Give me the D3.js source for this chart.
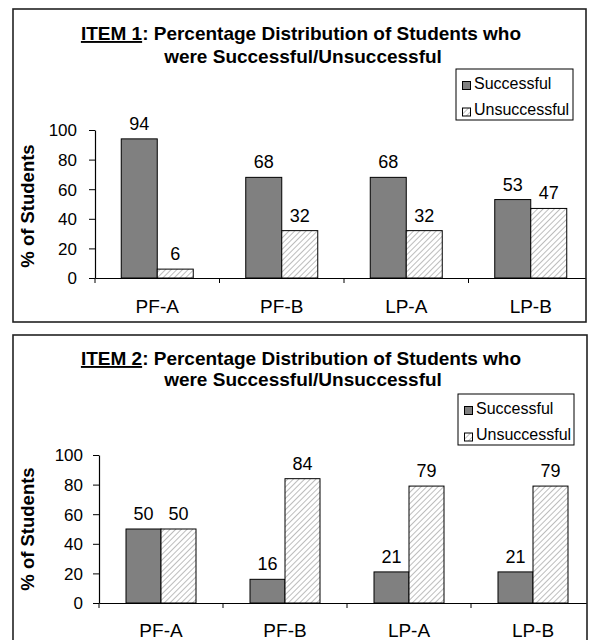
<!DOCTYPE html>
<html>
<head>
<meta charset="utf-8">
<script src="https://cdn.jsdelivr.net/npm/d3@7"></script>
<style>
  html, body { margin: 0; padding: 0; background: #fff; }
  svg { display: block; }
  text { font-family: "Liberation Sans", Arial, sans-serif; fill: #000; }
</style>
</head>
<body>
<svg id="chart" width="592" height="640"></svg>
<script>
// ---- data ----
const categories = ["PF-A", "PF-B", "LP-A", "LP-B"];
const seriesNames = ["Successful", "Unsuccessful"];
const item1Successful = [94, 68, 68, 53];
const item1Unsuccessful = [6, 32, 32, 47];
const item2Successful = [50, 16, 21, 21];
const item2Unsuccessful = [50, 84, 79, 79];
const yTicks = [0, 20, 40, 60, 80, 100];
const titleItem1 = "ITEM 1";
const titleItem2 = "ITEM 2";
const titleRest1 = ": Percentage Distribution of Students who";
const titleLine2 = "were Successful/Unsuccessful";
const yAxisTitle = "% of Students";

const svg = d3.select("#chart");
const defs = svg.append("defs");
const pat = defs.append("pattern")
  .attr("id", "hatch").attr("patternUnits", "userSpaceOnUse")
  .attr("width", 4).attr("height", 4)
  .attr("patternTransform", "rotate(45)");
pat.append("rect").attr("width", 4).attr("height", 4).attr("fill", "#fff");
pat.append("line").attr("x1", 0).attr("y1", 0).attr("x2", 0).attr("y2", 4)
  .attr("stroke", "#9a9a9a").attr("stroke-width", 1.3);

const fills = { Successful: "#808080", Unsuccessful: "url(#hatch)" };

function drawChart(cfg) {
  const g = svg.append("g");
  const clipId = "clip" + cfg.id;
  defs.append("clipPath").attr("id", clipId)
    .append("rect").attr("x", cfg.box.x).attr("y", cfg.box.y)
    .attr("width", cfg.box.w).attr("height", cfg.box.h);

  const inner = g.append("g").attr("clip-path", `url(#${clipId})`);

  const x = d3.scaleBand().domain(categories)
    .range([cfg.plotLeft, cfg.plotLeft + cfg.band * categories.length])
    .paddingInner(0).paddingOuter(0);
  const bw = x.bandwidth();
  const xs = d3.scaleBand().domain(seriesNames)
    .range([bw / 2 - cfg.barW, bw / 2 + cfg.barW]);
  const y = d3.scaleLinear().domain([0, 100]).range([cfg.zeroY, cfg.topY]);

  const rows = categories.map((c, i) => ({
    cat: c,
    vals: [
      { s: "Successful", v: cfg.succ[i] },
      { s: "Unsuccessful", v: cfg.unsucc[i] }
    ]
  }));

  // bars
  const grp = inner.selectAll("g.cat").data(rows).join("g")
    .attr("class", "cat")
    .attr("transform", d => `translate(${x(d.cat)},0)`);
  grp.selectAll("rect").data(d => d.vals).join("rect")
    .attr("x", d => xs(d.s))
    .attr("y", d => y(d.v))
    .attr("width", xs.bandwidth())
    .attr("height", d => y(0) - y(d.v))
    .attr("fill", d => fills[d.s])
    .attr("stroke", "#000").attr("stroke-width", 1);
  grp.selectAll("text").data(d => d.vals).join("text")
    .attr("x", d => xs(d.s) + xs.bandwidth() / 2)
    .attr("y", d => y(d.v) - 9)
    .attr("text-anchor", "middle")
    .style("font-size", "18px")
    .text(d => d.v);

  // x axis
  const xAxis = d3.axisBottom(x).tickSize(0).tickFormat("").tickSizeOuter(0);
  const xg = inner.append("g").attr("transform", `translate(0,${cfg.zeroY})`).call(xAxis);
  xg.select(".domain").attr("stroke", "#000").attr("stroke-width", 1.2);
  // category boundary tick marks
  const bounds = d3.range(categories.length).map(i => x(categories[i]));
  inner.selectAll("line.xt").data(bounds).join("line").attr("class", "xt")
    .attr("x1", d => d).attr("x2", d => d)
    .attr("y1", cfg.zeroY).attr("y2", cfg.zeroY + 5)
    .attr("stroke", "#000").attr("stroke-width", 1);
  // category labels
  inner.selectAll("text.cl").data(categories).join("text").attr("class", "cl")
    .attr("x", d => x(d) + bw / 2)
    .attr("y", cfg.catY)
    .attr("text-anchor", "middle")
    .style("font-size", "19px")
    .text(d => d);

  // y axis
  const yAxis = d3.axisLeft(y).tickValues(yTicks).tickSize(6).tickSizeOuter(0).tickPadding(4);
  const yg = inner.append("g").attr("transform", `translate(${cfg.plotLeft},0)`).call(yAxis);
  yg.select(".domain").attr("stroke", "#000").attr("stroke-width", 1.2);
  yg.selectAll(".tick line").attr("stroke", "#000");
  yg.selectAll(".tick text")
    .style("font-family", '"Liberation Sans", Arial, sans-serif')
    .style("font-size", "17px").attr("fill", "#000").attr("dy", "0.35em");
  yg.selectAll(".tick text").attr("x", -cfg.tickGap);

  // y title
  inner.append("text")
    .attr("transform", `translate(${cfg.yTitleX},${cfg.yTitleY}) rotate(-90)`)
    .attr("text-anchor", "middle")
    .attr("dy", "0.35em")
    .style("font-size", "18.5px").style("font-weight", "bold")
    .text(yAxisTitle);

  // title
  const t1 = inner.append("text").attr("x", cfg.titleX).attr("y", cfg.title1Y)
    .attr("text-anchor", "middle")
    .style("font-size", "19px").style("font-weight", "bold");
  t1.append("tspan").style("text-decoration", "underline").text(cfg.item);
  t1.append("tspan").text(titleRest1);
  inner.append("text").attr("x", cfg.titleX + 2).attr("y", cfg.title2Y)
    .attr("text-anchor", "middle")
    .style("font-size", "19px").style("font-weight", "bold")
    .text(titleLine2);

  // legend
  const lg = inner.append("g").attr("transform", `translate(${cfg.legend.x},${cfg.legend.y})`);
  lg.append("rect").attr("width", cfg.legend.w).attr("height", cfg.legend.h)
    .attr("fill", "#fff").attr("stroke", "#000").attr("stroke-width", 1);
  seriesNames.forEach((s, i) => {
    lg.append("rect").attr("x", 6.5).attr("y", 12.5 + i * 26.5)
      .attr("width", 8).attr("height", 8)
      .attr("fill", s === "Successful" ? "#808080" : "url(#hatch)")
      .attr("stroke", "#000").attr("stroke-width", 1);
    lg.append("text").attr("x", 18).attr("y", 19.5 + i * 26.5)
      .style("font-size", "16px").text(s);
  });

  // border
  g.append("rect").attr("x", cfg.box.x).attr("y", cfg.box.y)
    .attr("width", cfg.box.w).attr("height", cfg.box.h)
    .attr("fill", "none").attr("stroke", "#222").attr("stroke-width", 1.6);
}

drawChart({
  id: 1, item: titleItem1, succ: item1Successful, unsucc: item1Unsuccessful,
  box: { x: 13, y: 9, w: 573, h: 313 },
  plotLeft: 95, band: 124.5, barW: 36, zeroY: 278, topY: 130,
  catY: 313, yTitleX: 28, yTitleY: 206, tickGap: 18,
  titleX: 301, title1Y: 40, title2Y: 63,
  legend: { x: 456, y: 69, w: 117, h: 51 }
});
drawChart({
  id: 2, item: titleItem2, succ: item2Successful, unsucc: item2Unsuccessful,
  box: { x: 13, y: 335, w: 574, h: 320 },
  plotLeft: 99, band: 124, barW: 35, zeroY: 603, topY: 455,
  catY: 637, yTitleX: 28, yTitleY: 529, tickGap: 16,
  titleX: 301, title1Y: 365, title2Y: 386,
  legend: { x: 458, y: 394, w: 116, h: 51 }
});
</script>
</body>
</html>
